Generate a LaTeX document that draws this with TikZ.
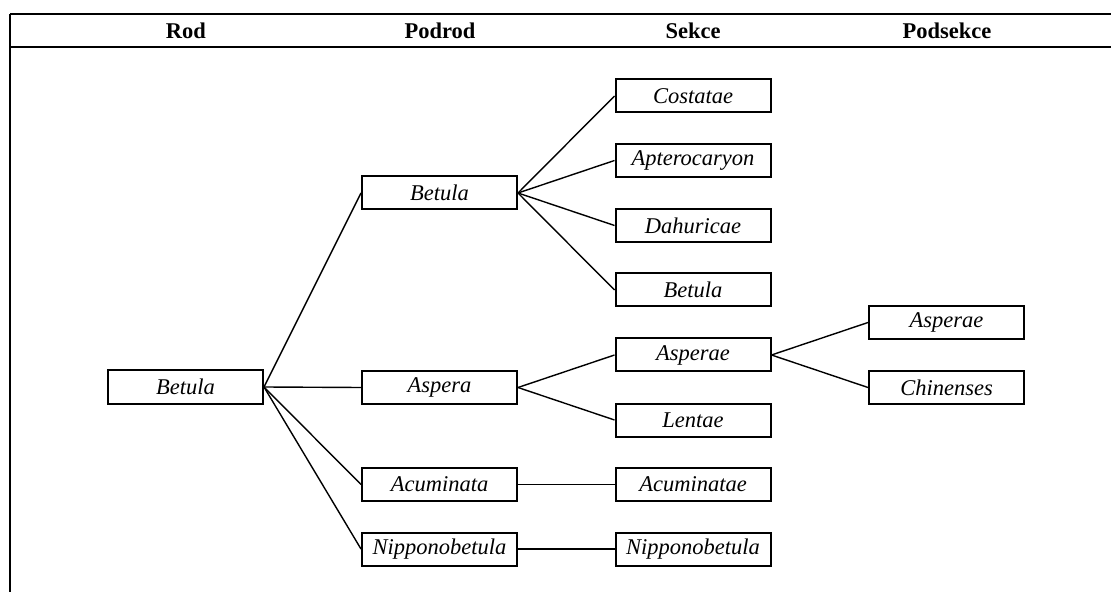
\documentclass[tikz,border=0pt]{standalone}
\usepackage{fontspec}
\setmainfont{Liberation Serif}
\usepackage{tikz}

\begin{document}
\begin{tikzpicture}[x=0.5pt, y=-0.5pt,
    box/.style={draw, line width=1pt, minimum width=77.5pt, minimum height=16.5pt,
        inner sep=0pt, font=\fontsize{11.25}{13}\selectfont\itshape},
    head/.style={font=\fontsize{11.25}{13}\selectfont\bfseries},
    edge/.style={line width=0.7pt}]
    \useasboundingbox (0, 0) rectangle (1111, 592);
    % table rules
    \draw [line width=1pt] (10, 14) to (1111, 14);
    \draw [line width=1pt] (10, 47) to (1111, 47);
    \draw [line width=1pt] (10, 14) to (10, 592);
    % header
    \node [head] (h0) at (186, 31) {Rod};
    \node [head] (h1) at (440, 31) {Podrod};
    \node [head] (h2) at (693, 31) {Sekce};
    \node [head] (h3) at (947, 31) {Podsekce};
    % rod
    \node [box] (0) at (185.5, 387) {Betula};
    % podrod
    \node [box] (1) at (439.5, 193) {Betula};
    \node [box] (2) at (439.5, 387.5) {Aspera};
    \node [box] (3) at (439.5, 484.5) {Acuminata};
    \node [box] (4) at (439.5, 549) {Nipponobetula};
    % sekce
    \node [box] (5) at (693, 96) {Costatae};
    \node [box] (6) at (693, 160.5) {Apterocaryon};
    \node [box] (7) at (693, 225.5) {Dahuricae};
    \node [box] (8) at (693, 290) {Betula};
    \node [box] (9) at (693, 355) {Asperae};
    \node [box] (10) at (693, 420) {Lentae};
    \node [box] (11) at (693, 484.5) {Acuminatae};
    \node [box] (12) at (693, 549) {Nipponobetula};
    % podsekce
    \node [box] (13) at (946.5, 322.5) {Asperae};
    \node [box] (14) at (946.5, 387.5) {Chinenses};
    % connectors
    \foreach \i in {1, 2, 3, 4}
        \draw [edge] (0.east) to (\i.west);
    \foreach \i in {5, 6, 7, 8}
        \draw [edge] (1.east) to (\i.west);
    \draw [edge] (2.east) to (9.west);
    \draw [edge] (2.east) to (10.west);
    \draw [edge] (3.east) to (11.west);
    \draw [edge] (4.east) to (12.west);
    \draw [edge] (9.east) to (13.west);
    \draw [edge] (9.east) to (14.west);
\end{tikzpicture}
\end{document}
